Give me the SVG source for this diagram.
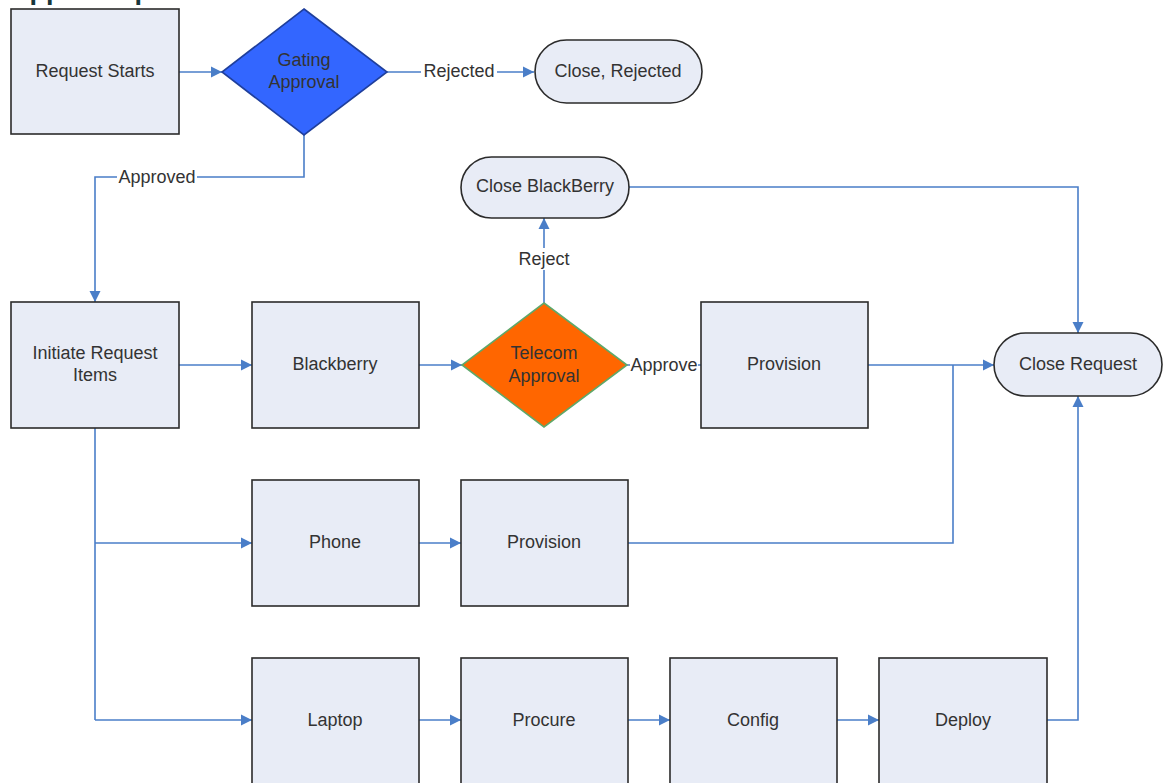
<svg xmlns="http://www.w3.org/2000/svg" width="1165" height="783" viewBox="0 0 1165 783">
<style>
  .box { fill: #E8ECF6; stroke: #2b2b2b; stroke-width: 1.6; }
  .lbl { font-family: "Liberation Sans", Arial, sans-serif; font-size: 18px; fill: #333333; text-anchor: middle; dominant-baseline: central; }
  .edge { fill: none; stroke: #4A7EC8; stroke-width: 1.6; }
  .arr { marker-end: url(#ah); }
  .elbl { font-family: "Liberation Sans", Arial, sans-serif; font-size: 18px; fill: #333333; text-anchor: middle; dominant-baseline: central; }
  .bg { fill: #ffffff; }
</style>
<defs>
  <marker id="ah" markerUnits="userSpaceOnUse" markerWidth="12" markerHeight="12" refX="11" refY="6" orient="auto">
    <path d="M0,0.5 L11,6 L0,11.5 z" fill="#4A7EC8"/>
  </marker>
</defs>
<rect width="1165" height="783" fill="#ffffff"/>
<text x="10" y="-1" font-family="Liberation Sans, Arial, sans-serif" font-weight="bold" font-size="27" fill="#17363b">Approval process</text>

<g id="connectors">
  <path class="edge arr" d="M179,72 L222,72"/>
  <path class="edge arr" d="M387,72 L534,72"/>
  <path class="edge arr" d="M304,135 L304,177 L95,177 L95,302"/>
  <path class="edge arr" d="M179,365 L252,365"/>
  <path class="edge arr" d="M419,365 L462,365"/>
  <path class="edge" d="M627,365 L701,365"/>
  <path class="edge arr" d="M544,303 L544,218"/>
  <path class="edge arr" d="M629,187 L1078,187 L1078,333"/>
  <path class="edge arr" d="M868,365 L994,365"/>
  <path class="edge" d="M628,543 L953,543 L953,365"/>
  <path class="edge" d="M95,428 L95,720"/>
  <path class="edge arr" d="M95,543 L252,543"/>
  <path class="edge arr" d="M95,720 L252,720"/>
  <path class="edge arr" d="M419,543 L461,543"/>
  <path class="edge arr" d="M419,720 L461,720"/>
  <path class="edge arr" d="M628,720 L670,720"/>
  <path class="edge arr" d="M837,720 L879,720"/>
  <path class="edge arr" d="M1047,720 L1078,720 L1078,396"/>
  <rect class="bg" x="421" y="61" width="76" height="22"/>
  <text class="elbl" x="459" y="71">Rejected</text>
  <rect class="bg" x="117" y="166" width="80" height="22"/>
  <text class="elbl" x="157" y="177">Approved</text>
  <rect class="bg" x="515" y="248" width="58" height="22"/>
  <text class="elbl" x="544" y="259">Reject</text>
  <rect class="bg" x="630" y="354" width="68" height="22"/>
  <text class="elbl" x="664" y="365">Approve</text>
</g>

<g id="request-starts">
  <rect class="box" x="11" y="9" width="168" height="125"/>
  <text class="lbl" x="95" y="71">Request Starts</text>
</g>
<g id="gating-approval">
  <polygon points="304,9 387,72 304,135 222,72" fill="#3366FF" stroke="#1f3f9c" stroke-width="1.6"/>
  <text class="lbl" x="304" y="60">Gating</text>
  <text class="lbl" x="304" y="82">Approval</text>
</g>
<g id="close-rejected">
  <rect class="box" x="535" y="40" width="167" height="63" rx="31.5"/>
  <text class="lbl" x="618" y="71">Close, Rejected</text>
</g>
<g id="initiate-request-items">
  <rect class="box" x="11" y="302" width="168" height="126"/>
  <text class="lbl" x="95" y="353">Initiate Request</text>
  <text class="lbl" x="95" y="375">Items</text>
</g>
<g id="blackberry">
  <rect class="box" x="252" y="302" width="167" height="126"/>
  <text class="lbl" x="335" y="364">Blackberry</text>
</g>
<g id="telecom-approval">
  <polygon points="544,303 627,365 544,427 462,365" fill="#FF6600" stroke="#5fa86a" stroke-width="1.6"/>
  <text class="lbl" x="544" y="353">Telecom</text>
  <text class="lbl" x="544" y="376">Approval</text>
</g>
<g id="close-blackberry">
  <rect class="box" x="461" y="157" width="168" height="61" rx="30.5"/>
  <text class="lbl" x="545" y="186">Close BlackBerry</text>
</g>
<g id="provision-1">
  <rect class="box" x="701" y="302" width="167" height="126"/>
  <text class="lbl" x="784" y="364">Provision</text>
</g>
<g id="close-request">
  <rect class="box" x="994" y="333" width="168" height="63" rx="31.5"/>
  <text class="lbl" x="1078" y="364">Close Request</text>
</g>
<g id="phone">
  <rect class="box" x="252" y="480" width="167" height="126"/>
  <text class="lbl" x="335" y="542">Phone</text>
</g>
<g id="provision-2">
  <rect class="box" x="461" y="480" width="167" height="126"/>
  <text class="lbl" x="544" y="542">Provision</text>
</g>
<g id="laptop">
  <rect class="box" x="252" y="658" width="167" height="126"/>
  <text class="lbl" x="335" y="720">Laptop</text>
</g>
<g id="procure">
  <rect class="box" x="461" y="658" width="167" height="126"/>
  <text class="lbl" x="544" y="720">Procure</text>
</g>
<g id="config">
  <rect class="box" x="670" y="658" width="167" height="126"/>
  <text class="lbl" x="753" y="720">Config</text>
</g>
<g id="deploy">
  <rect class="box" x="879" y="658" width="168" height="126"/>
  <text class="lbl" x="963" y="720">Deploy</text>
</g>
</svg>
